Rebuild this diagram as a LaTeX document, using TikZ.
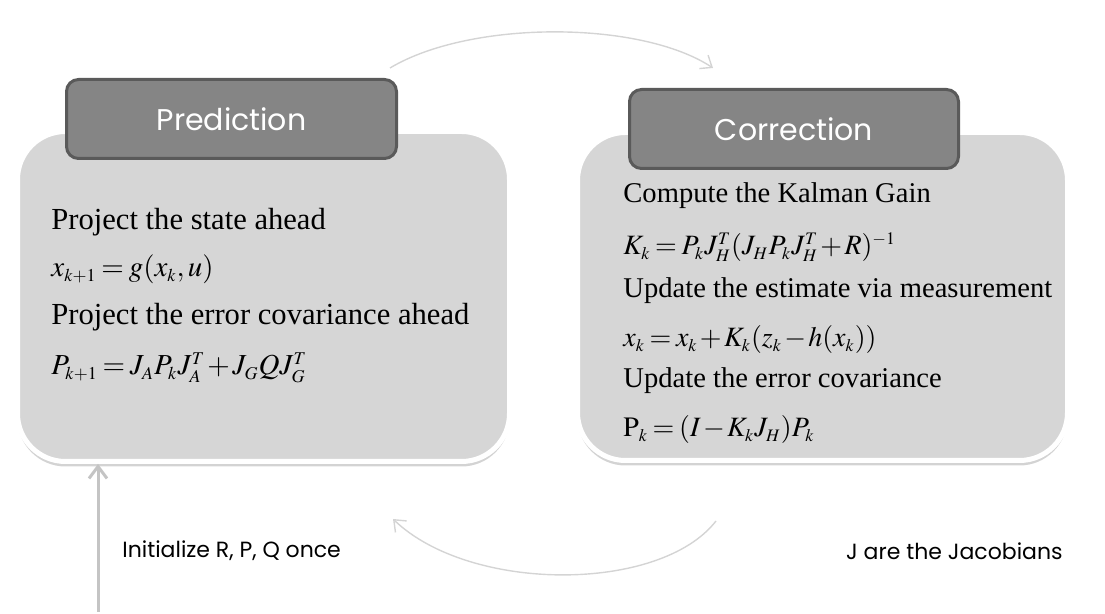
\documentclass[tikz,border=0pt]{standalone}
\usepackage{mathptmx}
\usepackage{fontspec}
\setmainfont{Liberation Serif}
\newfontfamily\gothic{Poppins}
\usetikzlibrary{arrows.meta,shadows}
\DeclareMathSizes{14.5}{14.5}{9}{7}
\DeclareMathSizes{14}{14}{8.8}{7}
\definecolor{boxgray}{HTML}{D6D6D6}
\definecolor{tabgray}{HTML}{858585}
\definecolor{tabedge}{HTML}{5A5A5A}
\definecolor{arcgray}{HTML}{D4D4D4}
\definecolor{initgray}{HTML}{C4C4C4}
\newcommand\tighteq[1]{$\thickmuskip=3mu\medmuskip=1.5mu #1$}

\begin{document}
\begin{tikzpicture}[x=0.5pt,y=-0.5pt,
  panel/.style={draw=white,line width=2.5pt,fill=boxgray,rounded corners=24pt,
    drop shadow={shadow xshift=0pt,shadow yshift=-2.5pt,opacity=0.35}},
  tab/.style={draw=tabedge,line width=1.5pt,fill=tabgray,rounded corners=6pt,
    text=white,font=\gothic\fontsize{15}{17}\selectfont},
  line/.style={anchor=base west,inner sep=0pt},
  lefttext/.style={line,font=\fontsize{15.3}{18}\selectfont},
  righttext/.style={line,font=\fontsize{14.3}{17}\selectfont},
  lefteq/.style={line,font=\fontsize{14.5}{17}\selectfont},
  righteq/.style={line,font=\fontsize{14}{17}\selectfont},
  note/.style={inner sep=0pt,font=\gothic\fontsize{11}{13}\selectfont},
  loop/.style={draw=arcgray,line width=0.7pt,-{Straight Barb[length=5pt,width=8pt]}}]
  \useasboundingbox (0,0) rectangle (1105,614);
  % the two steps
  \node[panel,minimum width=246pt,minimum height=165pt] (pred) at (263.5,296.5) {};
  \node[panel,minimum width=245pt,minimum height=164pt] (corr) at (822.5,296.5) {};
  \node[tab,minimum width=165pt,minimum height=39.5pt] (predtab) at (231.5,119) {Prediction};
  \node[tab,minimum width=164.5pt,minimum height=39.5pt] (corrtab) at (794,129) {Correction};
  % prediction
  \node[lefttext] (p1) at (51,230) {Project the state ahead};
  \node[lefteq] (p2) at (51,277) {\tighteq{x_{k+1}=g(x_k,u)}};
  \node[lefttext] (p3) at (51,325) {Project the error covariance ahead};
  \node[lefteq] (p4) at (51,375) {\tighteq{P_{k+1}=J_AP_kJ_A^T+J_GQJ_G^T}};
  % correction
  \node[righttext] (c1) at (623,203) {Compute the Kalman Gain};
  \node[righteq] (c2) at (623,255) {\tighteq{K_k=P_kJ_H^T(J_HP_kJ_H^T+R)^{-1}}};
  \node[righttext] (c3) at (623,298) {Update the estimate via measurement};
  \node[righteq] (c4) at (623,347) {\tighteq{x_k=x_k+K_k(z_k-h(x_k))}};
  \node[righttext] (c5) at (623,388) {Update the error covariance};
  \node[righteq] (c6) at (623,437) {\tighteq{\mathrm{P}_k=(I-K_kJ_H)P_k}};
  % notes
  \node[note,anchor=west] (init) at (122,551) {Initialize R, P, Q once};
  \node[note,anchor=east] (jac) at (1063,551) {J are the Jacobians};
  % loop arrows
  \coordinate (topa) at (390,68);
  \coordinate (topb) at (713,68);
  \coordinate (bota) at (716,521);
  \coordinate (botb) at (393,519);
  \coordinate (start) at (98,612);
  \draw[loop] (topa) .. controls (470,20) and (640,20) .. (topb);
  \draw[loop] (bota) .. controls (660,593) and (470,593) .. (botb);
  \draw[draw=initgray,line width=1.5pt,-{Straight Barb[length=6pt,width=9pt]}] (start) -- (start |- pred.south);
\end{tikzpicture}
\end{document}
